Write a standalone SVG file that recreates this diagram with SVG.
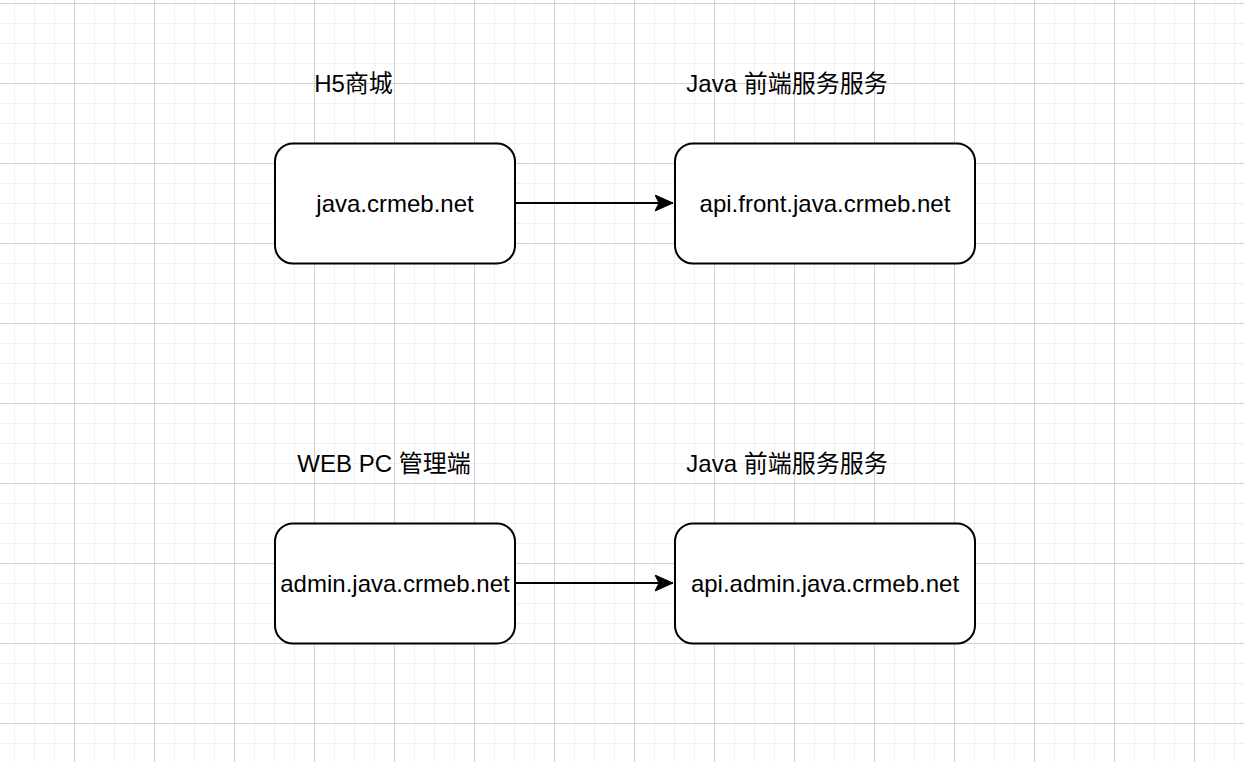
<svg xmlns="http://www.w3.org/2000/svg" width="1244" height="762" viewBox="0 0 1244 762">
  <style>
    .box { fill: #ffffff; stroke: #000000; stroke-width: 2; }
    .txt { font-family: "Liberation Sans", Arial, Helvetica, "Noto Sans CJK SC", sans-serif; font-size: 24px; fill: #000000; text-anchor: middle; }
    .edge { fill: none; stroke: #000000; stroke-width: 2; }
  </style>
  <defs>
    <pattern id="gridMinor" width="20" height="20" patternUnits="userSpaceOnUse" x="14" y="3">
      <path d="M0.5 0V20M0 0.5H20" fill="none" stroke="#f0f0f0" stroke-width="1"/>
    </pattern>
    <pattern id="gridMajor" width="80" height="80" patternUnits="userSpaceOnUse" x="74" y="3">
      <path d="M0.5 0V80M0 0.5H80" fill="none" stroke="#d3d3d3" stroke-width="1"/>
    </pattern>
    <marker id="arrow" markerUnits="userSpaceOnUse" markerWidth="20" markerHeight="20" refX="18" refY="8" orient="auto">
      <path d="M0 0 L18 8 L0 16 L4 8 Z" fill="#000000" stroke="#000000" stroke-width="1"/>
    </marker>
  </defs>

  <g id="background">
    <rect x="0" y="0" width="1244" height="762" fill="#ffffff"/>
    <rect x="0" y="0" width="1244" height="762" fill="url(#gridMinor)"/>
    <rect x="0" y="0" width="1244" height="762" fill="url(#gridMajor)"/>
  </g>

  <g id="connectors">
    <path class="edge" d="M515 203 H673" marker-end="url(#arrow)"/>
    <path class="edge" d="M515 583 H673" marker-end="url(#arrow)"/>
  </g>

  <g id="label-h5">
    <text class="txt" x="353.5" y="92">H5商城</text>
  </g>
  <g id="label-java-front">
    <text class="txt" x="787" y="92">Java 前端服务服务</text>
  </g>
  <g id="label-webpc">
    <text class="txt" x="384" y="472">WEB PC 管理端</text>
  </g>
  <g id="label-java-admin">
    <text class="txt" x="787" y="472">Java 前端服务服务</text>
  </g>

  <g id="node-h5">
    <rect class="box" x="275" y="143.5" width="240" height="120" rx="18" ry="18"/>
    <text class="txt" x="395" y="211.5">java.crmeb.net</text>
  </g>
  <g id="node-api-front">
    <rect class="box" x="675" y="143.5" width="300" height="120" rx="18" ry="18"/>
    <text class="txt" x="825" y="211.5">api.front.java.crmeb.net</text>
  </g>
  <g id="node-admin">
    <rect class="box" x="275" y="523.5" width="240" height="120" rx="18" ry="18"/>
    <text class="txt" x="395" y="591.5">admin.java.crmeb.net</text>
  </g>
  <g id="node-api-admin">
    <rect class="box" x="675" y="523.5" width="300" height="120" rx="18" ry="18"/>
    <text class="txt" x="825" y="591.5">api.admin.java.crmeb.net</text>
  </g>
</svg>
